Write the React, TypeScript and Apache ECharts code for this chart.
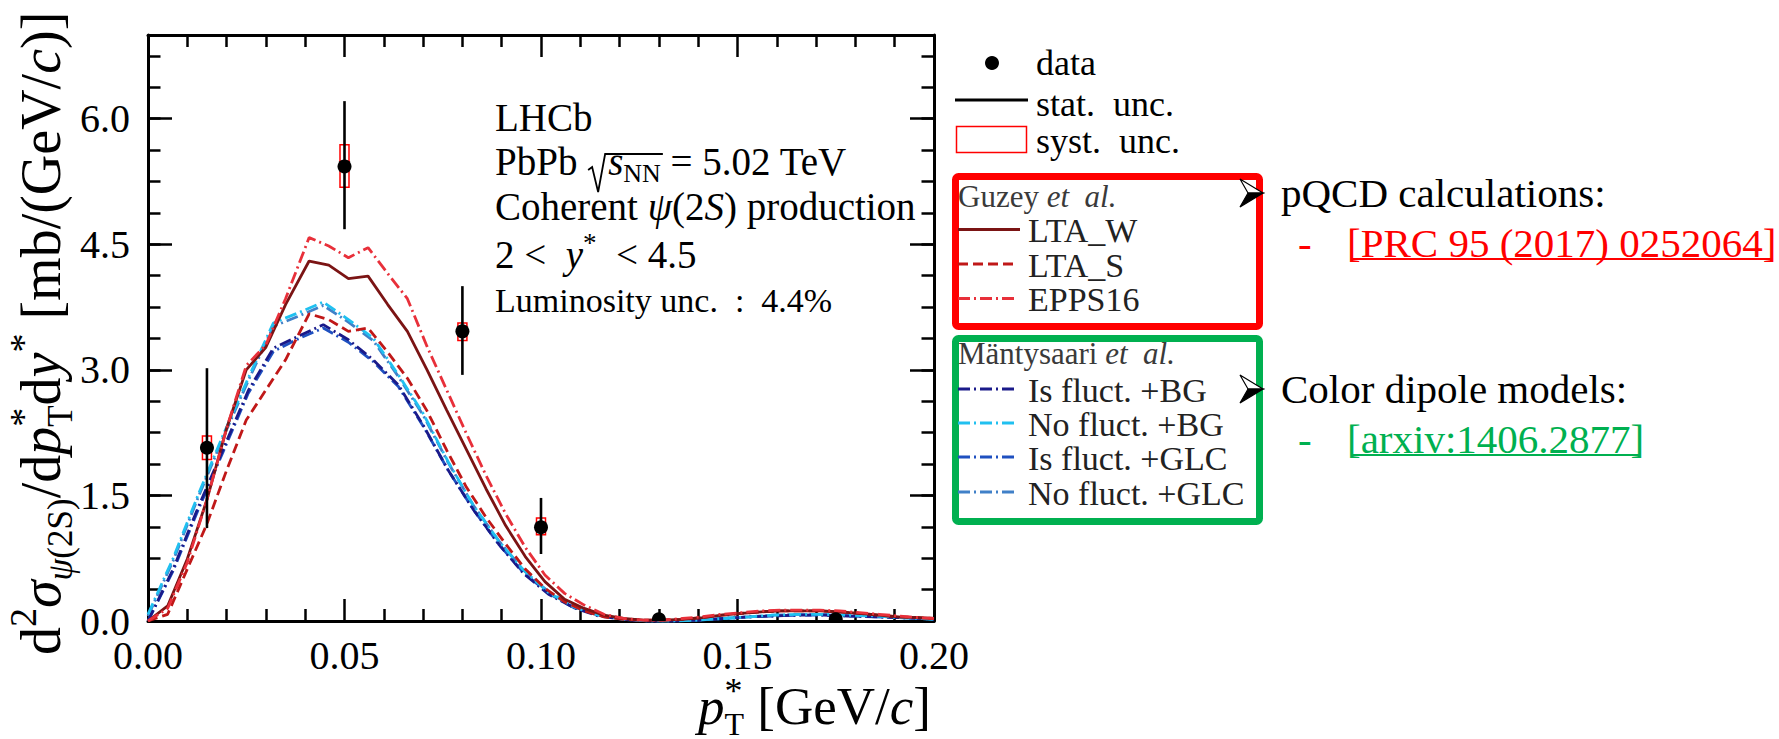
import React, { useEffect, useRef } from "react";
import * as echarts from "echarts";

const FONT = "Liberation Serif, serif";

// ---------- data ----------
const X_TICK_LABELS = ["0.00", "0.05", "0.10", "0.15", "0.20"];
const Y_TICK_LABELS = ["0.0", "1.5", "3.0", "4.5", "6.0"];

const GUZEY_PT = [0, 0.005, 0.01, 0.015, 0.02, 0.025, 0.03, 0.035, 0.041, 0.046, 0.051, 0.056, 0.061, 0.066, 0.071, 0.076, 0.081, 0.086, 0.091, 0.096, 0.101, 0.106, 0.111, 0.116, 0.121, 0.126, 0.131, 0.136, 0.141, 0.146, 0.151, 0.156, 0.161, 0.166, 0.171, 0.176, 0.181, 0.186, 0.191, 0.196, 0.2];
const LTA_W = [0, 0.18, 0.74, 1.45, 2.3, 3.0, 3.27, 3.78, 4.3, 4.25, 4.09, 4.12, 3.78, 3.46, 3.0, 2.52, 2.05, 1.58, 1.14, 0.77, 0.47, 0.26, 0.15, 0.07, 0.03, 0.01, 0.01, 0.02, 0.04, 0.07, 0.09, 0.11, 0.12, 0.12, 0.12, 0.11, 0.09, 0.07, 0.05, 0.04, 0.03];
const LTA_S = [0, 0.08, 0.62, 1.16, 1.8, 2.4, 2.76, 3.12, 3.67, 3.6, 3.46, 3.5, 3.21, 2.9, 2.51, 2.04, 1.6, 1.24, 0.92, 0.62, 0.39, 0.23, 0.12, 0.05, 0.02, 0.01, 0.01, 0.02, 0.04, 0.07, 0.09, 0.11, 0.12, 0.12, 0.12, 0.11, 0.09, 0.07, 0.05, 0.04, 0.03];
const EPPS16 = [0, 0.15, 0.7, 1.45, 2.3, 3.05, 3.3, 3.85, 4.58, 4.48, 4.34, 4.46, 4.15, 3.85, 3.28, 2.76, 2.24, 1.74, 1.28, 0.88, 0.55, 0.33, 0.19, 0.08, 0.03, 0.01, 0.01, 0.03, 0.05, 0.08, 0.1, 0.12, 0.13, 0.13, 0.13, 0.12, 0.1, 0.08, 0.06, 0.04, 0.03];

const DIPOLE_PT = [0, 0.0064, 0.0127, 0.0191, 0.0255, 0.0319, 0.0382, 0.0446, 0.051, 0.0573, 0.0637, 0.07, 0.0764, 0.0828, 0.0892, 0.0955, 0.1019, 0.1083, 0.1146, 0.121, 0.1274, 0.1338, 0.14, 0.1465, 0.153, 0.159, 0.166, 0.172, 0.178, 0.185, 0.191, 0.197, 0.2];
const IS_FLUCT_BG = [0.0, 0.62, 1.35, 2.05, 2.75, 3.26, 3.4, 3.54, 3.36, 3.12, 2.82, 2.34, 1.8, 1.33, 0.92, 0.57, 0.32, 0.16, 0.06, 0.02, 0.0, 0.0, 0.01, 0.03, 0.05, 0.06, 0.07, 0.07, 0.06, 0.05, 0.04, 0.03, 0.02];
const NO_FLUCT_BG = [0.08, 0.75, 1.5, 2.22, 2.9, 3.56, 3.68, 3.81, 3.6, 3.38, 2.94, 2.48, 1.9, 1.38, 0.96, 0.61, 0.34, 0.17, 0.07, 0.02, 0.0, 0.0, 0.01, 0.03, 0.05, 0.07, 0.08, 0.08, 0.07, 0.06, 0.04, 0.03, 0.02];
const IS_FLUCT_GLC = [0.0, 0.6, 1.32, 2.02, 2.72, 3.22, 3.37, 3.5, 3.33, 3.1, 2.8, 2.33, 1.8, 1.33, 0.92, 0.58, 0.33, 0.16, 0.07, 0.02, 0.0, 0.0, 0.01, 0.03, 0.05, 0.06, 0.07, 0.07, 0.06, 0.05, 0.04, 0.03, 0.02];
const NO_FLUCT_GLC = [0.06, 0.72, 1.47, 2.19, 2.87, 3.52, 3.64, 3.77, 3.57, 3.35, 2.92, 2.46, 1.89, 1.38, 0.96, 0.61, 0.35, 0.17, 0.07, 0.02, 0.0, 0.0, 0.01, 0.03, 0.05, 0.07, 0.08, 0.08, 0.07, 0.06, 0.04, 0.03, 0.02];

const DATA_PT = [0.015, 0.05, 0.08, 0.1, 0.13, 0.175];
const DATA_Y = [2.07, 5.43, 3.46, 1.12, 0.02, 0.02];
const STAT_LO = [1.11, 4.68, 2.94, 0.8, 0.0, 0.0];
const STAT_HI = [3.02, 6.21, 4.0, 1.47, 0.05, 0.05];
const SYST_LO = [1.93, 5.18, 3.35, 1.03, 0.01, 0.01];
const SYST_HI = [2.21, 5.69, 3.56, 1.23, 0.03, 0.03];

const DASH_DOT = [12, 4, 2, 4];
const MODELS = [
  { name: "Is fluct. +GLC", x: DIPOLE_PT, y: IS_FLUCT_GLC, color: "#1f50c0", dash: DASH_DOT as any },
  { name: "No fluct. +GLC", x: DIPOLE_PT, y: NO_FLUCT_GLC, color: "#4080c8", dash: DASH_DOT as any },
  { name: "Is fluct. +BG", x: DIPOLE_PT, y: IS_FLUCT_BG, color: "#1a1a8a", dash: DASH_DOT as any },
  { name: "No fluct. +BG", x: DIPOLE_PT, y: NO_FLUCT_BG, color: "#20c0f0", dash: DASH_DOT as any },
  { name: "LTA_S", x: GUZEY_PT, y: LTA_S, color: "#c01818", dash: [10, 5] as any },
  { name: "LTA_W", x: GUZEY_PT, y: LTA_W, color: "#7b1414", dash: "solid" as any },
  { name: "EPPS16", x: GUZEY_PT, y: EPPS16, color: "#e8303a", dash: DASH_DOT as any },
];

// ---------- text layout helpers ----------
type Run = { t: string; s?: number; it?: boolean; dy?: number; stack?: boolean; w?: number; color?: string };
let measureCtx: CanvasRenderingContext2D | null = null;
function fontStr(s: number, it?: boolean) {
  return `${it ? "italic " : ""}${s}px ${FONT}`;
}
function measure(t: string, s: number, it?: boolean) {
  if (!measureCtx) measureCtx = document.createElement("canvas").getContext("2d");
  if (!measureCtx) return t.length * s * 0.5;
  measureCtx.font = fontStr(s, it);
  return measureCtx.measureText(t).width;
}
function textEl(text: string, x: number, y: number, size: number, color: string, italic = false) {
  return {
    type: "text",
    x,
    y,
    silent: true,
    z: 20,
    style: {
      text,
      font: fontStr(size, italic),
      lineHeight: size,
      fill: color,
      align: "left",
      verticalAlign: "middle",
    },
  };
}
function layout(runs: Run[], x0: number, base: number, size: number, color: string) {
  const els: any[] = [];
  const starts: number[] = [];
  const ends: number[] = [];
  let x = x0;
  let prevStart = x0;
  for (const r of runs) {
    const s = r.s ?? size;
    const start = r.stack ? prevStart : x;
    const w = r.t ? measure(r.t, s, r.it) : 0;
    if (r.t) els.push(textEl(r.t, start, base + (r.dy ?? 0) - 0.3375 * s, s, r.color ?? color, !!r.it));
    starts.push(start);
    ends.push(start + w + (r.w ?? 0));
    if (r.stack) x = Math.max(x, start + w);
    else {
      prevStart = start;
      x = start + w + (r.w ?? 0);
    }
  }
  return { els, starts, ends, end: x };
}

function buildGraphics() {
  const g: any[] = [];
  // ---- in-plot annotation ----
  const AX = 495;
  const S = 39;
  g.push(...layout([{ t: "LHCb" }], AX, 131, S, "#000").els);
  const pb = layout(
    [{ t: "PbPb " }, { t: "", w: 21 }, { t: "s", it: true }, { t: "NN", s: 26, dy: 7 }, { t: " = 5.02 TeV" }],
    AX, 175, S, "#000"
  );
  g.push(...pb.els);
  const rx = pb.starts[1];
  const rEnd = pb.ends[3] + 2;
  g.push({
    type: "polyline",
    silent: true,
    z: 20,
    shape: { points: [[rx + 1, 170], [rx + 5, 167], [rx + 11, 192], [rx + 18, 154], [rEnd, 154]] },
    style: { stroke: "#000", lineWidth: 1.8, fill: "none" },
  });
  g.push(...layout([{ t: "Coherent " }, { t: "ψ", it: true }, { t: "(2" }, { t: "S", it: true }, { t: ") production" }], AX, 220, S, "#000").els);
  g.push(...layout([{ t: "2 <  " }, { t: "y", it: true }, { t: "*", s: 27, dy: -16 }, { t: "  < 4.5" }], AX, 268, S, "#000").els);
  g.push(...layout([{ t: "Luminosity unc.  :  4.4%" }], AX, 312, 34, "#000").els);

  // ---- x axis title ----
  g.push(
    ...layout(
      [{ t: "p", it: true }, { t: "*", s: 36, dy: -21 }, { t: "T", s: 32, dy: 11, stack: true }, { t: " [GeV/" }, { t: "c", it: true }, { t: "]" }],
      698, 724, 53, "#000"
    ).els
  );

  // ---- y axis title (rotated) ----
  const yt = layout(
    [
      { t: "d" },
      { t: "2", s: 38, dy: -24 },
      { t: "σ", it: true },
      { t: "ψ", s: 35, it: true, dy: 12 },
      { t: "(2S)", s: 35, dy: 12 },
      { t: "/d" },
      { t: "p", it: true },
      { t: "*", s: 38, dy: -24 },
      { t: "T", s: 35, dy: 12, stack: true },
      { t: "d" },
      { t: "y", it: true },
      { t: "*", s: 38, dy: -24 },
      { t: " [mb/(GeV/" },
      { t: "c", it: true },
      { t: ")]" },
    ],
    0, 0, 56, "#000"
  );
  g.push({ type: "group", x: 60, y: 655, rotation: Math.PI / 2, children: yt.els });

  // ---- legend (top, unboxed) ----
  g.push({ type: "circle", silent: true, z: 20, shape: { cx: 992, cy: 63, r: 7 }, style: { fill: "#000" } });
  g.push(textEl("data", 1036, 63, 36, "#000"));
  g.push({ type: "line", silent: true, z: 20, shape: { x1: 955, y1: 100, x2: 1028, y2: 100 }, style: { stroke: "#000", lineWidth: 3 } });
  g.push(textEl("stat.  unc.", 1036, 104, 36, "#000"));
  g.push({ type: "rect", silent: true, z: 20, shape: { x: 956.5, y: 126.5, width: 70, height: 26 }, style: { fill: "none", stroke: "#ff0000", lineWidth: 1.5 } });
  g.push(textEl("syst.  unc.", 1036, 141, 36, "#000"));

  // ---- boxed legends ----
  g.push({ type: "rect", silent: true, z: 19, shape: { x: 955.5, y: 176.5, width: 304, height: 150, r: 3 }, style: { fill: "none", stroke: "#ff0000", lineWidth: 7 } });
  g.push({ type: "rect", silent: true, z: 19, shape: { x: 955.5, y: 338.5, width: 304, height: 183, r: 3 }, style: { fill: "none", stroke: "#00b050", lineWidth: 7 } });
  g.push(...layout([{ t: "Guzey " }, { t: "et  al.", it: true }], 958, 207, 31, "#3a3a3a").els);
  g.push(...layout([{ t: "Mäntysaari " }, { t: "et  al.", it: true }], 958, 364, 31, "#3a3a3a").els);
  const LEG = [
    { name: "LTA_W", y: 229.5, color: "#7b1414", dash: null as any, x2: 1020 },
    { name: "LTA_S", y: 264, color: "#c01818", dash: [10, 5], x2: 1015 },
    { name: "EPPS16", y: 298.5, color: "#e8303a", dash: DASH_DOT, x2: 1015 },
    { name: "Is fluct. +BG", y: 389, color: "#1a1a8a", dash: DASH_DOT, x2: 1015 },
    { name: "No fluct. +BG", y: 423, color: "#20c0f0", dash: DASH_DOT, x2: 1015 },
    { name: "Is fluct. +GLC", y: 457, color: "#1f50c0", dash: DASH_DOT, x2: 1015 },
    { name: "No fluct. +GLC", y: 492, color: "#4080c8", dash: DASH_DOT, x2: 1015 },
  ];
  for (const l of LEG) {
    g.push({
      type: "line",
      silent: true,
      z: 20,
      shape: { x1: 958, y1: l.y, x2: l.x2, y2: l.y },
      style: { stroke: l.color, lineWidth: 3, lineDash: l.dash || undefined },
    });
    g.push(textEl(l.name, 1028, l.y + 1, 34, "#222"));
  }

  // ---- arrows ----
  for (const cy of [193, 389]) {
    g.push({ type: "polygon", silent: true, z: 20, shape: { points: [[1263, cy], [1240, cy - 14], [1248, cy]] }, style: { fill: "#fff", stroke: "#000", lineWidth: 1.2 } });
    g.push({ type: "polygon", silent: true, z: 20, shape: { points: [[1263, cy], [1248, cy], [1240, cy + 14]] }, style: { fill: "#000", stroke: "#000", lineWidth: 1.2 } });
  }

  // ---- right side texts ----
  const RS = 41;
  g.push(textEl("pQCD calculations:", 1281, 193, RS, "#000"));
  g.push(textEl("-", 1298, 243, RS, "#ff0000"));
  const prc = "[PRC 95 (2017) 0252064]";
  g.push(textEl(prc, 1347, 243, RS, "#ff0000"));
  g.push({ type: "line", silent: true, z: 20, shape: { x1: 1352, y1: 259, x2: 1347 + measure(prc, RS) - 5, y2: 259 }, style: { stroke: "#ff0000", lineWidth: 2 } });
  g.push(textEl("Color dipole models:", 1281, 389, RS, "#000"));
  g.push(textEl("-", 1298, 439, RS, "#00b050"));
  const arx = "[arxiv:1406.2877]";
  g.push(textEl(arx, 1347, 439, RS, "#00b050"));
  g.push({ type: "line", silent: true, z: 20, shape: { x1: 1352, y1: 455, x2: 1347 + measure(arx, RS) - 5, y2: 455 }, style: { stroke: "#00b050", lineWidth: 2 } });
  return g;
}

function axisCommon(extra: any) {
  return {
    type: "value",
    splitLine: { show: false },
    minorSplitLine: { show: false },
    ...extra,
  };
}

function buildOption(): any {
  const lineStyleAxis = { color: "#000", width: 3 };
  const tickStyle = { color: "#000", width: 2.5 };
  const labelFont = { fontFamily: FONT, fontSize: 40, color: "#000" };
  const xMain = (pos: string, labels: boolean) =>
    axisCommon({
      position: pos,
      min: 0,
      max: 0.2,
      interval: 0.05,
      axisLine: { show: true, onZero: false, lineStyle: lineStyleAxis },
      axisTick: { show: true, inside: true, length: 22, lineStyle: tickStyle },
      minorTick: { show: true, splitNumber: 5, length: 12, lineStyle: tickStyle },
      axisLabel: labels
        ? {
            show: true,
            margin: 14,
            ...labelFont,
            formatter: (v: number) => X_TICK_LABELS.find((l) => Math.abs(parseFloat(l) - v) < 1e-9) ?? "",
          }
        : { show: false },
    });
  const yMain = (pos: string, labels: boolean) =>
    axisCommon({
      position: pos,
      min: 0,
      max: 7,
      interval: 1.5,
      axisLine: { show: true, onZero: false, lineStyle: lineStyleAxis },
      axisTick: { show: true, inside: true, length: 24, lineStyle: tickStyle },
      axisLabel: labels
        ? {
            show: true,
            margin: 18,
            showMaxLabel: false,
            ...labelFont,
            formatter: (v: number) => Y_TICK_LABELS.find((l) => Math.abs(parseFloat(l) - v) < 1e-9) ?? "",
          }
        : { show: false },
    });
  const yMinor = (pos: string) =>
    axisCommon({
      position: pos,
      min: 0,
      max: 7,
      interval: 0.375,
      axisLine: { show: false, onZero: false },
      axisTick: { show: true, inside: true, length: 12.5, lineStyle: tickStyle },
      axisLabel: { show: false },
    });

  const series: any[] = MODELS.map((m) => ({
    type: "line",
    name: m.name,
    xAxisIndex: 0,
    yAxisIndex: 0,
    data: m.x.map((x, i) => [x, m.y[i]]),
    showSymbol: false,
    symbol: "none",
    silent: true,
    clip: true,
    z: 3,
    lineStyle: { color: m.color, width: 2.8, type: m.dash },
  }));

  series.push({
    type: "custom",
    name: "data",
    xAxisIndex: 0,
    yAxisIndex: 0,
    z: 6,
    clip: true,
    silent: true,
    data: DATA_PT.map((x, i) => [x, DATA_Y[i], STAT_LO[i], STAT_HI[i], SYST_LO[i], SYST_HI[i]]),
    encode: { x: 0, y: 1 },
    renderItem: (_p: any, api: any) => {
      const x = api.value(0);
      const c = api.coord([x, api.value(1)]);
      const lo = api.coord([x, api.value(2)]);
      const hi = api.coord([x, api.value(3)]);
      const sLo = api.coord([x, api.value(4)]);
      const sHi = api.coord([x, api.value(5)]);
      return {
        type: "group",
        children: [
          { type: "rect", shape: { x: c[0] - 4.5, y: sHi[1], width: 9, height: sLo[1] - sHi[1] }, style: { fill: "none", stroke: "#ff0000", lineWidth: 1.5 } },
          { type: "line", shape: { x1: c[0], y1: hi[1], x2: c[0], y2: lo[1] }, style: { stroke: "#000", lineWidth: 2.6 } },
          { type: "circle", shape: { cx: c[0], cy: c[1], r: 7 }, style: { fill: "#000" } },
        ],
      };
    },
  });

  return {
    animation: false,
    backgroundColor: "#fff",
    textStyle: { fontFamily: FONT },
    grid: { left: 148, top: 35, width: 786, height: 586, containLabel: false, outerBoundsMode: "none" },
    xAxis: [xMain("bottom", true), xMain("top", false)],
    yAxis: [yMain("left", true), yMinor("left"), yMain("right", false), yMinor("right")],
    series,
    graphic: { elements: buildGraphics() },
  };
}

export default function App() {
  const ref = useRef<HTMLDivElement>(null);
  useEffect(() => {
    if (!ref.current) return;
    const chart = echarts.init(ref.current, null, { renderer: "svg" });
    chart.setOption(buildOption());
    return () => chart.dispose();
  }, []);
  return (
    <div
      ref={ref}
      style={{ position: "absolute", left: 0, top: 0, width: 1779, height: 739, background: "#fff" }}
    />
  );
}
